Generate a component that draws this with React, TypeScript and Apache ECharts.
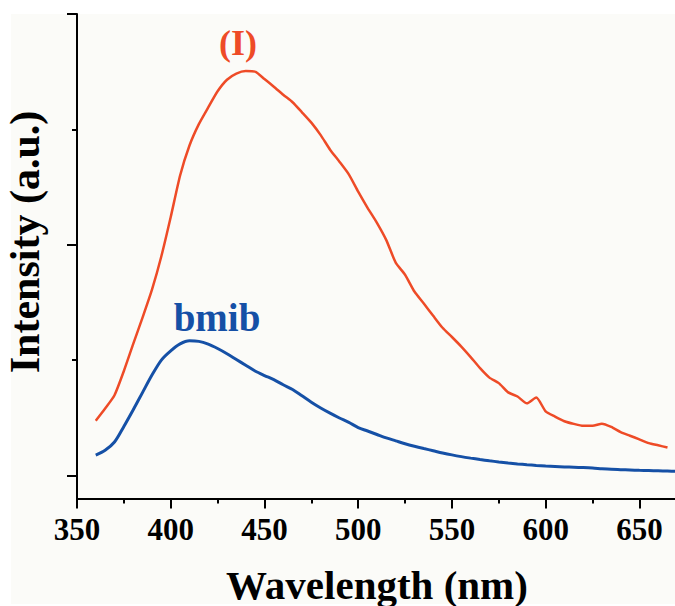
import React, { useEffect, useRef } from "react";
import * as echarts from "echarts";

const wavelengths = [
  360, 365, 370, 375, 380, 385, 390, 395, 400, 405, 410, 415, 420, 425, 430, 435,
  440, 445, 450, 455, 460, 465, 470, 475, 480, 485, 490, 495, 500, 505, 510, 515,
  520, 525, 530, 535, 540, 545, 550, 555, 560, 565, 570, 575, 580, 585, 590, 595,
  600, 605, 610, 615, 620, 625, 630, 635, 640, 645, 650, 655, 660, 665, 670,
];

const intensityI: (number | null)[] = [
  0.474, 0.58, 0.695, 0.905, 1.14, 1.37, 1.61, 1.9, 2.24, 2.6, 2.86, 3.045, 3.19, 3.33, 3.43, 3.483,
  3.505, 3.5, 3.436, 3.37, 3.3, 3.235, 3.148, 3.058, 2.95, 2.824, 2.72, 2.61, 2.46, 2.32, 2.19, 2.04,
  1.845, 1.74, 1.594, 1.49, 1.384, 1.28, 1.2, 1.117, 1.026, 0.93, 0.848, 0.8, 0.72, 0.684, 0.625, 0.675,
  0.555, 0.51, 0.47, 0.447, 0.43, 0.43, 0.448, 0.42, 0.375, 0.344, 0.313, 0.28, 0.261, 0.242, null,
];

const intensityBmib = [
  0.176, 0.218, 0.29, 0.425, 0.57, 0.72, 0.87, 1.0, 1.08, 1.14, 1.167, 1.162, 1.138, 1.1, 1.055, 1.005,
  0.955, 0.905, 0.866, 0.83, 0.786, 0.745, 0.69, 0.635, 0.585, 0.54, 0.498, 0.46, 0.415, 0.385, 0.355, 0.325,
  0.3, 0.275, 0.253, 0.233, 0.214, 0.195, 0.178, 0.163, 0.15, 0.138, 0.127, 0.117, 0.108, 0.1, 0.093, 0.087,
  0.082, 0.078, 0.074, 0.071, 0.068, 0.064, 0.058, 0.053, 0.05, 0.047, 0.044, 0.042, 0.04, 0.038, 0.036,
];

const xMajorTicks = [350, 400, 450, 500, 550, 600, 650];
const xMinorTicks = [375, 425, 475, 525, 575, 625];
const yMajorTicks = [0, 2, 4];
const yMinorTicks = [1, 3];

const FONT = "'Liberation Serif', 'Times New Roman', serif";
const RED = "#ee4b27";
const BLUE = "#1550a6";

export default function App() {
  const ref = useRef<HTMLDivElement>(null);
  useEffect(() => {
    if (!ref.current) return;
    const chart = echarts.init(ref.current, null, { renderer: "svg" });
    const xMin = 350;
    const xMax = 669;
    const yMin = -0.2;
    const yMax = 4;
    const axisLineStyle = { color: "#000", width: 2 };
    chart.setOption({
      animation: false,
      backgroundColor: "#ffffff",
      graphic: [
        {
          type: "rect",
          z: -10,
          silent: true,
          shape: { x: 11, y: 14, width: 664, height: 590 },
          style: { fill: "#fbfbf8" },
        },
        {
          type: "text",
          x: 25,
          y: 242,
          rotation: Math.PI / 2,
          style: {
            text: "Intensity (a.u.)",
            font: `bold 42px ${FONT}`,
            fill: "#000",
            align: "center",
            verticalAlign: "middle",
          },
        },
        {
          type: "text",
          x: 377,
          y: 585,
          style: {
            text: "Wavelength (nm)",
            font: `bold 41px ${FONT}`,
            fill: "#000",
            align: "center",
            verticalAlign: "middle",
          },
        },
        {
          type: "text",
          x: 238,
          y: 43,
          style: {
            text: "(I)",
            font: `bold 36px ${FONT}`,
            fill: RED,
            align: "center",
            verticalAlign: "middle",
          },
        },
        {
          type: "text",
          x: 217,
          y: 317,
          style: {
            text: "bmib",
            font: `bold 39px ${FONT}`,
            fill: BLUE,
            align: "center",
            verticalAlign: "middle",
          },
        },
      ],
      grid: { left: 77, top: 14, right: 0, bottom: 107.5, containLabel: false },
      xAxis: [
        {
          type: "value",
          position: "bottom",
          min: xMin,
          max: xMax,
          interval: 50,
          axisLine: { show: true, onZero: false, lineStyle: axisLineStyle },
          axisTick: { show: true, length: 10, lineStyle: axisLineStyle, customValues: xMajorTicks },
          axisLabel: {
            show: true,
            customValues: xMajorTicks,
            margin: 15,
            color: "#000",
            fontFamily: FONT,
            fontWeight: "bold",
            fontSize: 31,
          },
          splitLine: { show: false },
        },
        {
          type: "value",
          position: "bottom",
          min: xMin,
          max: xMax,
          interval: 50,
          axisLine: { show: false, onZero: false },
          axisTick: { show: true, length: 5, lineStyle: axisLineStyle, customValues: xMinorTicks },
          axisLabel: { show: false },
          splitLine: { show: false },
        },
      ],
      yAxis: [
        {
          type: "value",
          position: "left",
          min: yMin,
          max: yMax,
          axisLine: { show: true, onZero: false, lineStyle: axisLineStyle },
          axisTick: { show: true, length: 10, lineStyle: axisLineStyle, customValues: yMajorTicks },
          axisLabel: { show: false },
          splitLine: { show: false },
        },
        {
          type: "value",
          position: "left",
          min: yMin,
          max: yMax,
          axisLine: { show: false, onZero: false },
          axisTick: { show: true, length: 5, lineStyle: axisLineStyle, customValues: yMinorTicks },
          axisLabel: { show: false },
          splitLine: { show: false },
        },
      ],
      series: [
        {
          name: "(I)",
          type: "line",
          xAxisIndex: 0,
          yAxisIndex: 0,
          showSymbol: false,
          smooth: 0.2,
          lineStyle: { color: RED, width: 2.5 },
          data: wavelengths
            .map((w, i) => [w, intensityI[i]])
            .filter((p) => p[1] !== null),
        },
        {
          name: "bmib",
          type: "line",
          xAxisIndex: 0,
          yAxisIndex: 0,
          showSymbol: false,
          smooth: 0.3,
          lineStyle: { color: BLUE, width: 3 },
          data: wavelengths.map((w, i) => [w, intensityBmib[i]]),
        },
      ],
    });
    return () => chart.dispose();
  }, []);
  return (
    <div
      ref={ref}
      style={{ position: "fixed", left: 0, top: 0, width: 675, height: 606 }}
    />
  );
}
